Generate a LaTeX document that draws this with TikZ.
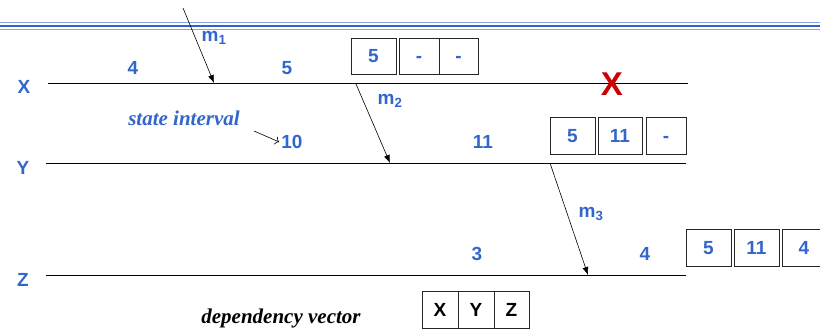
\documentclass[tikz,border=0pt]{standalone}
\usepackage{fontspec}
\setmainfont{Liberation Serif}
\setsansfont{Liberation Sans}
\usetikzlibrary{arrows.meta}
\definecolor{tblue}{RGB}{51,102,204}
\definecolor{tred}{RGB}{204,0,0}
\definecolor{hlight}{RGB}{135,165,228}
\definecolor{hdark}{RGB}{50,95,205}
\begin{document}
\begin{tikzpicture}[x=1pt,y=-1pt,
 lbl/.style={font=\sffamily\bfseries\fontsize{19}{19}\selectfont, text=tblue, inner sep=0pt},
 vbox/.style={draw=black!85, line width=0.8pt, minimum height=36pt, inner sep=0pt,
   text height=13.6pt, text depth=0pt,
   font=\sffamily\bfseries\fontsize{19}{19}\selectfont, text=tblue},
 kbox/.style={vbox, text=black, minimum width=36pt},
 tline/.style={line width=0.9pt},
 msg/.style={-{Latex[length=8pt,width=6pt]}, line width=0.6pt},
 note/.style={font=\rmfamily\bfseries\itshape\fontsize{21}{21}\selectfont, inner sep=0pt}
]
\useasboundingbox (0,0) rectangle (820,330);
% header rule
\draw[hlight, line width=1.2pt] (0,22.8) -- (820,22.8);
\draw[hdark, line width=2.2pt] (0,26.2) -- (820,26.2);
\draw[hlight, line width=1.2pt] (0,29.6) -- (820,29.6);

% timelines
\coordinate (xs) at (48,83);  \coordinate (xe) at (688,83);
\coordinate (ys) at (46,163); \coordinate (ye) at (686,163);
\coordinate (zs) at (46,275); \coordinate (ze) at (686,275);
\draw[tline] (xs) -- (xe);
\draw[tline] (ys) -- (ye);
\draw[tline] (zs) -- (ze);

\node[lbl] (pX) at (24,87) {X};
\node[lbl] (pY) at (23,168) {Y};
\node[lbl] (pZ) at (23,280) {Z};

% state numbers
\node[lbl] (x4) at (133,68) {4};
\node[lbl] (x5) at (287,68) {5};
\node[lbl] (y10) at (292,142) {10};
\node[lbl] (y11) at (483,142) {11};
\node[lbl] (z3) at (477,254) {3};
\node[lbl] (z4) at (645,254) {4};

% messages
\coordinate (m1s) at (183,8);   \coordinate (m1e) at (214,83);
\coordinate (m2s) at (356,84);  \coordinate (m2e) at (390,163);
\coordinate (m3s) at (550,163); \coordinate (m3e) at (588,275);
\draw[msg] (m1s) -- (m1e);
\draw[msg] (m2s) -- (m2e);
\draw[msg] (m3s) -- (m3e);
\node[lbl] (lm1) at (214,38) {m\textsubscript{1}};
\node[lbl] (lm2) at (390,101) {m\textsubscript{2}};
\node[lbl] (lm3) at (591,214) {m\textsubscript{3}};

% failure
\node[font=\sffamily\bfseries\fontsize{33}{33}\selectfont, text=tred, inner sep=0pt] (fail) at (612,84) {X};

% dependency vectors
\node[vbox, minimum width=45pt] (a1) at (373.5,56) {5};
\node[vbox, minimum width=40pt] (a2) at (419,56) {-};
\node[vbox, minimum width=39pt] (a3) at (458.5,56) {-};

\node[vbox, minimum width=45pt, minimum height=37pt] (b1) at (572.5,135.5) {5};
\node[vbox, minimum width=44pt, minimum height=37pt] (b2) at (620,135.5) {11};
\node[vbox, minimum width=40pt, minimum height=37pt] (b3) at (666,135.5) {-};

\node[vbox, minimum width=45pt, minimum height=37pt] (c1) at (708.5,247.5) {5};
\node[vbox, minimum width=45pt, minimum height=37pt] (c2) at (756.5,247.5) {11};
\node[vbox, minimum width=44pt, minimum height=37pt] (c3) at (804,247.5) {4};

\node[kbox, minimum height=37pt] (k1) at (440,309.5) {X};
\node[kbox, minimum height=37pt] (k2) at (476,309.5) {Y};
\node[kbox, minimum height=37pt, minimum width=35pt] (k3) at (511.5,309.5) {Z};

% annotations
\node[note, text=tblue] (si) at (184,118) {state interval};
\coordinate (sia) at (254,131);
\draw[-{To[length=4pt]}, line width=0.6pt] (sia) -- ([xshift=-2pt]y10.west);
\node[note, text=black] (dv) at (281,318) {dependency vector};
\end{tikzpicture}
\end{document}
